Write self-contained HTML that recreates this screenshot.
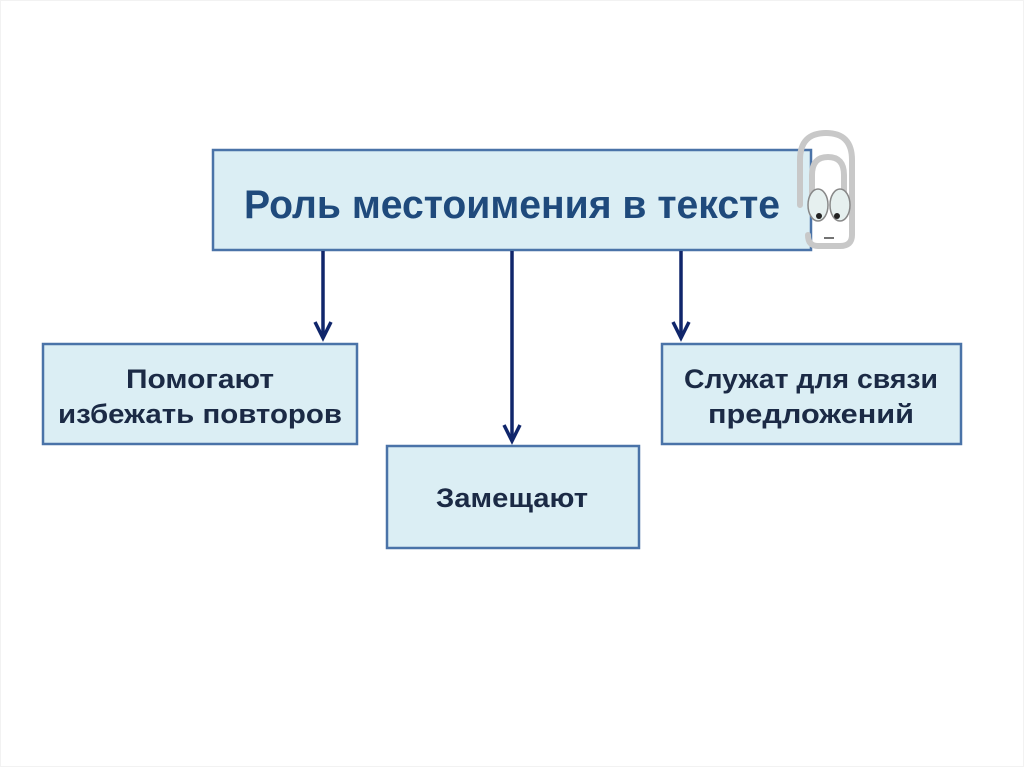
<!DOCTYPE html>
<html><head><meta charset="utf-8"><style>
html,body{margin:0;padding:0;background:#fff;}
svg{display:block;}
</style></head><body>
<svg width="1024" height="767" viewBox="0 0 1024 767" xmlns="http://www.w3.org/2000/svg">
<rect x="0.5" y="0.5" width="1023" height="766" fill="#fff" stroke="#f2f2f2"/>
<g fill="#dbeef4" stroke="#4a73a8" stroke-width="2.5">
<rect x="213" y="150" width="598" height="100"/>
<rect x="43" y="344" width="314" height="100"/>
<rect x="662" y="344" width="299" height="100"/>
<rect x="387" y="446" width="252" height="102"/>
</g>
<g stroke="#10266b" stroke-width="3.5" fill="none">
<line x1="323" y1="251" x2="323" y2="338"/>
<polyline points="315,322 323,338 331,322"/>
<line x1="512" y1="251" x2="512" y2="441"/>
<polyline points="504,425 512,441 520,425"/>
<line x1="681" y1="251" x2="681" y2="338"/>
<polyline points="673,322 681,338 689,322"/>
</g>
<g font-family="Liberation Sans, sans-serif" font-weight="bold" text-anchor="middle">
<text x="512" y="218" font-size="40" fill="#1f4a7c" textLength="536" lengthAdjust="spacingAndGlyphs">Роль местоимения в тексте</text>
<g font-size="27" fill="#1b2a45">
<text x="200" y="388" textLength="148" lengthAdjust="spacingAndGlyphs">Помогают</text>
<text x="200" y="423" textLength="284" lengthAdjust="spacingAndGlyphs">избежать повторов</text>
<text x="811" y="388" textLength="254" lengthAdjust="spacingAndGlyphs">Служат для связи</text>
<text x="811" y="423" textLength="206" lengthAdjust="spacingAndGlyphs">предложений</text>
<text x="512" y="507" textLength="152" lengthAdjust="spacingAndGlyphs">Замещают</text>
</g>
</g>
<!-- paperclip -->
<g fill="none" stroke="#c8c8c8" stroke-width="6" stroke-linecap="round">
<path d="M800 205 V160 Q800 133 826 133 Q852 133 852 160 V235 Q852 246 840 246 H818 Q808 246 808 235"/>
<path d="M812 205 V175 Q812 157 828 157 Q844 157 844 175 V205"/>
</g>
<ellipse cx="818" cy="205" rx="10" ry="16" fill="#e6f0ef" stroke="#888" stroke-width="1.5"/>
<ellipse cx="840" cy="205" rx="10" ry="16" fill="#e6f0ef" stroke="#888" stroke-width="1.5"/>
<circle cx="819" cy="216" r="3" fill="#222"/>
<circle cx="837" cy="216" r="3" fill="#222"/>
<line x1="824" y1="238" x2="834" y2="238" stroke="#444" stroke-width="1.5"/>
</svg>
</body></html>
